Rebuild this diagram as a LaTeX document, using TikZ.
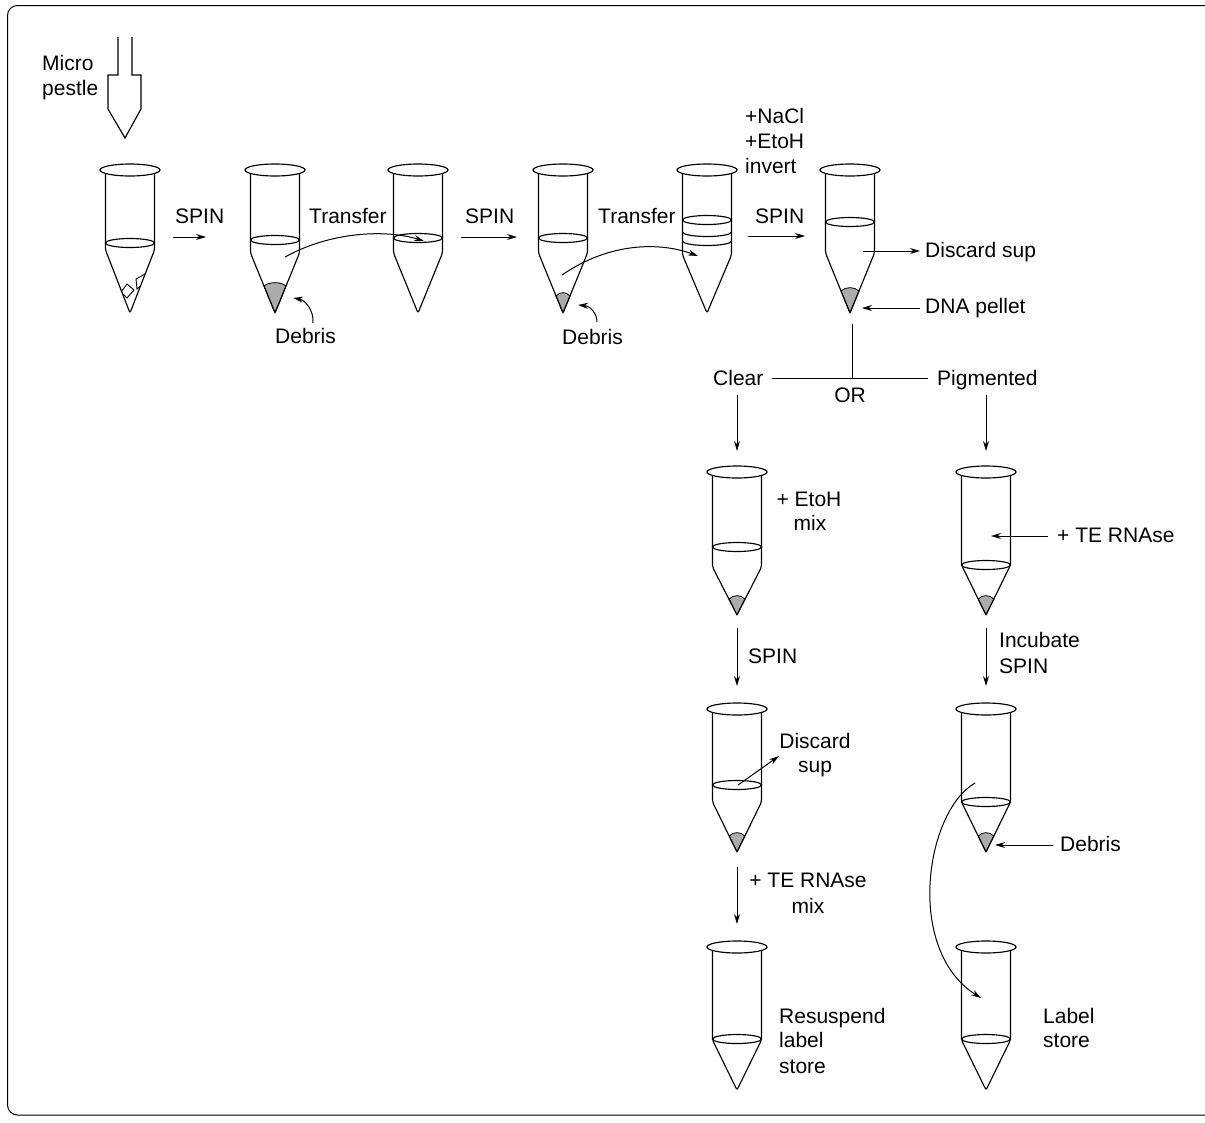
\documentclass[tikz,border=0pt]{standalone}
\usepackage{fontspec}
\setmainfont{Liberation Sans}
\usetikzlibrary{arrows.meta}
% tube: x, rim y, cone start offset, liquid offset
\newcommand\mytube[4]{%
  \draw[ln,rounded corners=2pt] (#1-24.5,#2+3.5) -- (#1-24.5,#2+#3) -- (#1,#2+143) -- (#1+24.5,#2+#3) -- (#1+24.5,#2+3.5);
  \draw[ln] (#1,#2) ellipse [x radius=30pt,y radius=6pt];
  \draw[ln] (#1,#2+#4) ellipse [x radius=24.5pt,y radius=4.5pt];
}
% pellet: x, tip y, height, half width
\newcommand\mypellet[4]{%
  \filldraw[pel] (#1-#4,#2-#3+3) .. controls (#1-#4/2,#2-#3-1.5) and (#1+#4/2,#2-#3-1.5) .. (#1+#4,#2-#3+3) -- (#1,#2) -- cycle;
}
\begin{document}
\begin{tikzpicture}[x=1pt,y=-1pt,
  ln/.style={line width=1.15pt},
  arr/.style={line width=1pt,-{Stealth[length=10pt,width=6pt]}},
  lbl/.style={font=\fontsize{21}{25}\selectfont,inner sep=0pt,anchor=base west},
  lblc/.style={font=\fontsize{21}{25}\selectfont,inner sep=0pt,anchor=base},
  pel/.style={fill=black!33,line width=0.8pt}]
\useasboundingbox (0,0) rectangle (1205,1122);

% frame
\draw[line width=1pt,rounded corners=10pt] (1215,5.5) -- (7.5,5.5) -- (7.5,1115) -- (1215,1115);

% micro pestle
\draw[ln] (118,37) -- (118,75) -- (108,75) -- (108,109) -- (125,138) -- (141,109) -- (141,75) -- (132,75) -- (132,37);

% pellets (drawn first)
\mypellet{275}{313}{30}{11}
\mypellet{563}{313}{20}{6.9}
\mypellet{850}{313}{25}{9}
\mypellet{737}{615}{19}{7.8}
\mypellet{986}{615}{19}{7.8}
\mypellet{737}{852}{19}{7.8}
\mypellet{986}{852}{19}{7.8}

% fragments in tube 1 (clipped to its cone)
\begin{scope}
  \clip (105.5,250) -- (130,313) -- (154.5,250) -- cycle;
  \draw[line width=0.9pt] (121,292) -- (127,284) -- (134,290) -- (127,298) -- cycle;
  \draw[line width=0.9pt] (136,279) -- (145,274) -- (143,284) -- (137,289) -- cycle;
\end{scope}

% top row tubes
\mytube{130}{170}{80}{73}
\mytube{275}{170}{83}{70}
\mytube{418}{170}{83}{68}
\mytube{563}{170}{83}{68}
\mytube{707}{170}{85}{50}
\draw[ln] (682.5,232) arc[start angle=180,end angle=360,x radius=24.5pt,y radius=4.5pt];
\draw[ln] (682.5,241) arc[start angle=180,end angle=360,x radius=24.5pt,y radius=4.5pt];
\mytube{850}{170}{83}{52}

% lower tubes
\mytube{737}{472}{95}{75}
\mytube{986}{472}{93}{93}
\mytube{737}{709}{93}{76}
\mytube{986}{709}{93}{93}
\mytube{737}{947}{93}{92}
\mytube{986}{947}{93}{92}

% labels
\node[lbl] (micro) at (42,70) {Micro};
\node[lbl] (pestle) at (42,95) {pestle};
\node[lbl] (spin1) at (175,223) {SPIN};
\node[lbl] (tr1) at (309,223) {Transfer};
\node[lbl] (spin2) at (465,223) {SPIN};
\node[lbl] (tr2) at (598,223) {Transfer};
\node[lbl] (spin3) at (755,223) {SPIN};
\node[lbl] (nacl) at (745,123) {+NaCl};
\node[lbl] (etoh) at (745,148) {+EtoH};
\node[lbl] (invert) at (745,173) {invert};
\node[lbl] (disc1) at (925,257) {Discard sup};
\node[lbl] (dna) at (925,313) {DNA pellet};
\node[lbl] (deb1) at (275,343) {Debris};
\node[lbl] (deb2) at (562,344) {Debris};
\node[lbl] (clear) at (713,385) {Clear};
\node[lbl] (pig) at (937,385) {Pigmented};
\node[lblc] (or) at (850,402) {OR};
\node[lblc] (etoh2) at (809,506) {+ EtoH};
\node[lblc] (mix1) at (810,530) {mix};
\node[lbl] (te1) at (1057,542) {+ TE RNAse};
\node[lbl] (spin4) at (748,663) {SPIN};
\node[lbl] (incub) at (999,647) {Incubate};
\node[lbl] (spin5) at (999,673) {SPIN};
\node[lblc] (disc2) at (815,748) {Discard};
\node[lblc] (sup2) at (815,772) {sup};
\node[lbl] (deb3) at (1060,851) {Debris};
\node[lblc] (te2) at (808,887) {+ TE RNAse};
\node[lblc] (mix2) at (808,913) {mix};
\node[lbl] (res) at (779,1023) {Resuspend};
\node[lbl] (lab) at (779,1047) {label};
\node[lbl] (sto) at (779,1073) {store};
\node[lbl] (Lab) at (1043,1023) {Label};
\node[lbl] (sto2) at (1043,1047) {store};

% connector end points
\coordinate (s1a) at (173,237);  \coordinate (s1b) at (206,237);
\coordinate (t1a) at (285,257);  \coordinate (t1b) at (424,241);
\coordinate (s2a) at (461,237);  \coordinate (s2b) at (517,237);
\coordinate (t2a) at (562,275);  \coordinate (t2b) at (698,256);
\coordinate (s3a) at (748,236);  \coordinate (s3b) at (805,236);
\coordinate (d1a) at (863,251);  \coordinate (d1b) at (920,251);
\coordinate (pa) at (920,308);   \coordinate (pb) at (862,308);
\coordinate (orT) at (852,324);  \coordinate (orM) at (852,378);
\coordinate (orL) at (772,378);  \coordinate (orR) at (928,378);
\coordinate (c1a) at (737,395);  \coordinate (c1b) at (737,451);
\coordinate (p1a) at (986,395);  \coordinate (p1b) at (986,451);
\coordinate (r1a) at (1048,536); \coordinate (r1b) at (991,536);
\coordinate (c2a) at (737,628);  \coordinate (c2b) at (737,686);
\coordinate (p2a) at (986,628);  \coordinate (p2b) at (986,686);
\coordinate (d2a) at (738,785);  \coordinate (d2b) at (779,756);
\coordinate (cv1) at (975,783);  \coordinate (cv2) at (981,998);
\coordinate (db3a) at (1053,845); \coordinate (db3b) at (995,845);
\coordinate (c3a) at (737,867);  \coordinate (c3b) at (737,924);
\coordinate (db1a) at (313,323); \coordinate (db1b) at (293,298);
\coordinate (db2a) at (597,322); \coordinate (db2b) at (578,305);

% connectors
\draw[arr] (s1a) -- (s1b);
\draw[arr] (t1a) .. controls (330,232) and (385,229) .. (t1b);
\draw[arr] (s2a) -- (s2b);
\draw[arr] (t2a) .. controls (610,242) and (660,242) .. (t2b);
\draw[arr] (s3a) -- (s3b);
\draw[arr] (d1a) -- (d1b);
\draw[arr] (pa) -- (pb);
\draw[line width=1pt] (orT) -- (orM);
\draw[line width=1pt] (orL) -- (orR);
\draw[arr] (c1a) -- (c1b);
\draw[arr] (p1a) -- (p1b);
\draw[arr] (r1a) -- (r1b);
\draw[arr] (c2a) -- (c2b);
\draw[arr] (p2a) -- (p2b);
\draw[arr] (d2a) -- (d2b);
\draw[arr] (cv1) .. controls (925,812) and (905,950) .. (cv2);
\draw[arr] (db3a) -- (db3b);
\draw[arr] (c3a) -- (c3b);
\draw[arr] (db1a) .. controls (314,310) and (305,300) .. (db1b);
\draw[arr] (db2a) .. controls (597,313) and (590,306) .. (db2b);
\end{tikzpicture}
\end{document}
